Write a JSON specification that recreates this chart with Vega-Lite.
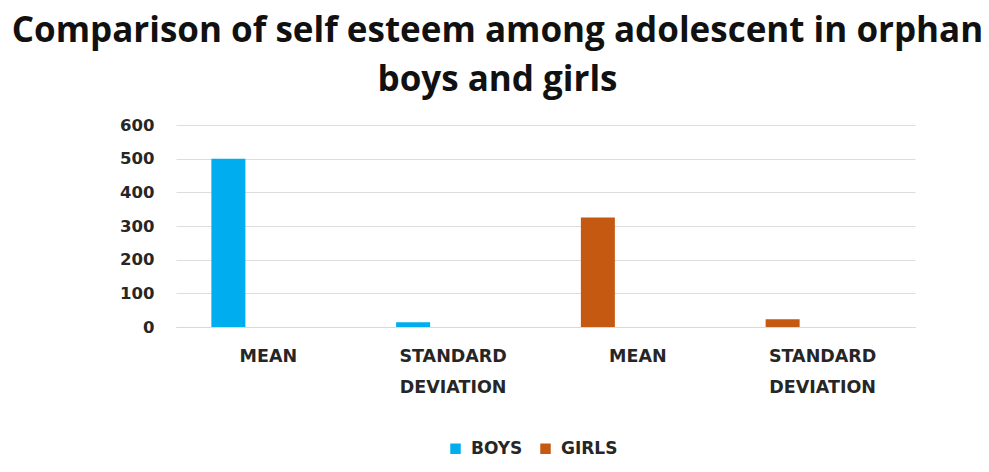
{
  "$schema": "https://vega.github.io/schema/vega-lite/v6.json",
  "autosize": {"type": "none"},
  "width": 739,
  "height": 202,
  "padding": {"left": 176, "top": 125, "right": 74, "bottom": 145},
  "background": "white",
  "title": {
    "text": ["Comparison of self esteem among adolescent in orphan", "boys and girls"],
    "font": "Open Sans",
    "fontWeight": "bold",
    "fontSize": 35,
    "lineHeight": 49,
    "color": "#111111",
    "anchor": "middle",
    "frame": "group",
    "dx": -48,
    "offset": 19
  },
  "data": {
    "values": [
      {"column": "BOYS MEAN", "statistic": "MEAN", "gender": "BOYS", "value": 500},
      {"column": "BOYS SD", "statistic": "STANDARD DEVIATION", "gender": "BOYS", "value": 14},
      {"column": "GIRLS MEAN", "statistic": "MEAN", "gender": "GIRLS", "value": 325},
      {"column": "GIRLS SD", "statistic": "STANDARD DEVIATION", "gender": "GIRLS", "value": 23}
    ]
  },
  "mark": {"type": "bar", "width": {"band": 0.184}, "xOffset": -40},
  "encoding": {
    "x": {
      "field": "column",
      "type": "nominal",
      "sort": ["BOYS MEAN", "BOYS SD", "GIRLS MEAN", "GIRLS SD"],
      "scale": {"paddingInner": 0, "paddingOuter": 0},
      "axis": {
        "title": null,
        "labelAngle": 0,
        "labelExpr": "(datum.value == 'BOYS MEAN' || datum.value == 'GIRLS MEAN') ? 'MEAN' : ['STANDARD', 'DEVIATION']",
        "labelFont": "DejaVu Sans",
        "labelFontWeight": "bold",
        "labelFontSize": 17.5,
        "labelLineHeight": 31,
        "labelColor": "#262626",
        "labelPadding": 20,
        "ticks": false,
        "domain": true,
        "domainColor": "#d9d9d9",
        "grid": false
      }
    },
    "y": {
      "field": "value",
      "type": "quantitative",
      "scale": {"domain": [0, 600], "nice": false},
      "axis": {
        "title": null,
        "values": [0, 100, 200, 300, 400, 500, 600],
        "labelFont": "DejaVu Sans",
        "labelFontWeight": "bold",
        "labelFontSize": 16.5,
        "labelColor": "#262626",
        "labelPadding": 22,
        "ticks": false,
        "domain": false,
        "grid": true,
        "gridColor": "#dddddd",
        "gridWidth": 1
      }
    },
    "color": {
      "field": "gender",
      "type": "nominal",
      "scale": {"domain": ["BOYS", "GIRLS"], "range": ["#00AEEF", "#C65911"]},
      "legend": {
        "title": null,
        "orient": "none",
        "legendX": 271,
        "legendY": 315,
        "direction": "horizontal",
        "symbolType": "square",
        "symbolSize": 110,
        "symbolStrokeWidth": 0,
        "labelFont": "DejaVu Sans",
        "labelFontWeight": "bold",
        "labelFontSize": 17,
        "labelColor": "#262626",
        "labelOffset": 7,
        "columnPadding": 14
      }
    }
  },
  "config": {"view": {"stroke": null}}
}
